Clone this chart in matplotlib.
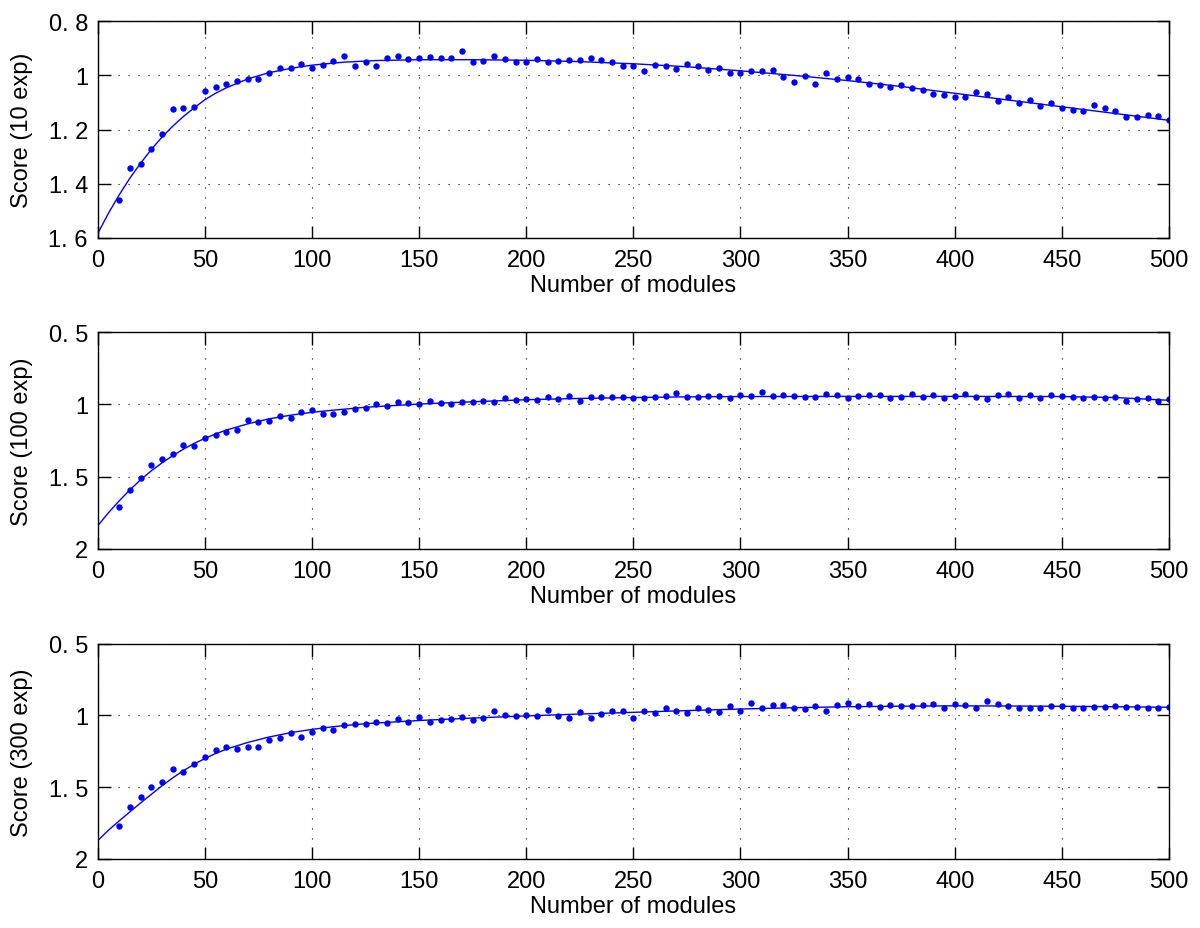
import matplotlib
matplotlib.use("Agg")
import matplotlib.pyplot as plt

plt.rcParams['font.family'] = ['Liberation Sans', 'DejaVu Sans']

# module counts for the measured points (every 5 modules, 10..500)
modules = list(range(10, 505, 5))

# scores, one value per module count
score_10 = [
    1.459, 1.342, 1.327, 1.271, 1.218, 1.124, 1.122, 1.116, 1.058, 1.041,
    1.033, 1.022, 1.012, 1.015, 0.990, 0.972, 0.973, 0.959, 0.973, 0.961,
    0.947, 0.930, 0.964, 0.951, 0.967, 0.935, 0.929, 0.938, 0.937, 0.931,
    0.936, 0.937, 0.908, 0.952, 0.946, 0.929, 0.940, 0.952, 0.952, 0.938,
    0.950, 0.946, 0.943, 0.943, 0.934, 0.942, 0.952, 0.964, 0.964, 0.982,
    0.961, 0.967, 0.977, 0.959, 0.964, 0.980, 0.973, 0.990, 0.990, 0.984,
    0.983, 0.979, 1.007, 1.023, 1.004, 1.031, 0.991, 1.014, 1.007, 1.014,
    1.030, 1.037, 1.042, 1.037, 1.048, 1.055, 1.068, 1.073, 1.079, 1.078,
    1.060, 1.069, 1.096, 1.081, 1.101, 1.091, 1.113, 1.102, 1.122, 1.128,
    1.130, 1.111, 1.119, 1.133, 1.154, 1.154, 1.147, 1.151, 1.166,
]
score_100 = [
    1.707, 1.594, 1.509, 1.422, 1.376, 1.340, 1.282, 1.289, 1.232, 1.211,
    1.193, 1.179, 1.110, 1.119, 1.117, 1.083, 1.094, 1.050, 1.041, 1.069,
    1.069, 1.050, 1.030, 1.023, 0.998, 1.009, 0.982, 0.989, 0.998, 0.977,
    0.989, 1.000, 0.986, 0.986, 0.977, 0.984, 0.959, 0.968, 0.961, 0.968,
    0.947, 0.961, 0.945, 0.975, 0.952, 0.950, 0.950, 0.952, 0.955, 0.959,
    0.952, 0.940, 0.924, 0.947, 0.947, 0.943, 0.945, 0.954, 0.936, 0.945,
    0.915, 0.945, 0.936, 0.945, 0.952, 0.947, 0.931, 0.933, 0.954, 0.945,
    0.936, 0.936, 0.959, 0.948, 0.929, 0.950, 0.933, 0.959, 0.945, 0.929,
    0.947, 0.963, 0.936, 0.929, 0.954, 0.936, 0.954, 0.936, 0.945, 0.950,
    0.959, 0.947, 0.956, 0.952, 0.977, 0.966, 0.959, 0.977, 0.961,
]
score_300 = [
    1.767, 1.640, 1.570, 1.495, 1.461, 1.372, 1.395, 1.337, 1.291, 1.244,
    1.221, 1.237, 1.223, 1.219, 1.174, 1.158, 1.121, 1.151, 1.112, 1.088,
    1.100, 1.067, 1.056, 1.058, 1.042, 1.049, 1.026, 1.042, 1.012, 1.047,
    1.030, 1.026, 1.012, 1.035, 1.016, 0.972, 0.995, 1.002, 1.000, 1.007,
    0.960, 1.005, 1.016, 0.977, 1.021, 0.991, 0.972, 0.967, 1.015, 0.972,
    0.981, 0.951, 0.967, 0.981, 0.951, 0.963, 0.979, 0.937, 0.970, 0.912,
    0.951, 0.926, 0.930, 0.951, 0.953, 0.935, 0.970, 0.930, 0.914, 0.937,
    0.921, 0.942, 0.930, 0.933, 0.935, 0.926, 0.923, 0.949, 0.919, 0.930,
    0.947, 0.902, 0.919, 0.935, 0.947, 0.947, 0.951, 0.935, 0.933, 0.949,
    0.947, 0.940, 0.944, 0.933, 0.942, 0.942, 0.949, 0.949, 0.940,
]

# fitted curves, read at a set of module counts
fit_x_10 = [0, 5, 10, 15, 20, 25, 30, 35, 40, 45, 50, 55, 60, 70, 80, 90, 100,
            115, 130, 150, 175, 200, 225, 250, 275, 300, 325, 350, 375, 400,
            425, 450, 475, 500]
fit_y_10 = [1.585, 1.510, 1.442, 1.380, 1.325, 1.274, 1.228, 1.188, 1.152,
            1.120, 1.090, 1.066, 1.046, 1.013, 0.990, 0.974, 0.962, 0.951,
            0.945, 0.942, 0.942, 0.944, 0.949, 0.957, 0.968, 0.983, 1.000,
            1.019, 1.041, 1.066, 1.091, 1.116, 1.141, 1.166]

fit_x_100 = [0, 5, 10, 15, 20, 25, 30, 35, 40, 45, 50, 55, 60, 70, 80, 90, 100,
             110, 125, 150, 175, 200, 225, 250, 275, 300, 350, 400, 450, 475,
             500]
fit_y_100 = [1.840, 1.750, 1.668, 1.592, 1.522, 1.460, 1.405, 1.355, 1.310,
             1.270, 1.235, 1.205, 1.178, 1.135, 1.100, 1.075, 1.055, 1.040,
             1.020, 0.998, 0.982, 0.968, 0.959, 0.953, 0.948, 0.946, 0.945,
             0.945, 0.946, 0.953, 0.972]

fit_x_300 = [0, 5, 10, 15, 20, 25, 30, 35, 40, 45, 50, 55, 60, 70, 80, 90, 100,
             110, 125, 150, 175, 200, 225, 250, 275, 300, 325, 350, 375, 400,
             425, 450, 475, 500]
fit_y_300 = [1.872, 1.800, 1.735, 1.672, 1.610, 1.550, 1.490, 1.435, 1.385,
             1.340, 1.300, 1.265, 1.235, 1.188, 1.150, 1.120, 1.097, 1.078,
             1.057, 1.035, 1.018, 1.003, 0.990, 0.978, 0.966, 0.955, 0.946,
             0.939, 0.935, 0.933, 0.934, 0.936, 0.939, 0.943]

ylabels = ['Score (10 exp)', 'Score (100 exp)', 'Score (300 exp)']
ylims = [(0.8, 1.6), (0.5, 2.0), (0.5, 2.0)]
yticks = [[0.8, 1.0, 1.2, 1.4, 1.6], [0.5, 1.0, 1.5, 2.0], [0.5, 1.0, 1.5, 2.0]]
yticklabels = [['0. 8', '1', '1. 2', '1. 4', '1. 6'],
               ['0. 5', '1', '1. 5', '2'],
               ['0. 5', '1', '1. 5', '2']]
xticks = list(range(0, 550, 50))

series = [(score_10, fit_x_10, fit_y_10),
          (score_100, fit_x_100, fit_y_100),
          (score_300, fit_x_300, fit_y_300)]

fig = plt.figure(figsize=(12, 9.29), dpi=100)
# axes boxes [left, bottom, width, height] in figure fractions
boxes = [[0.0814, 0.743, 0.8928, 0.233],
         [0.0814, 0.408, 0.8928, 0.2335],
         [0.0814, 0.0743, 0.8928, 0.2317]]

blue = (0, 0, 1)
for i, (pts, fx, fy) in enumerate(series):
    ax = fig.add_axes(boxes[i])
    ax.plot(fx, fy, '-', color=blue, lw=1.0)
    ax.plot(modules, pts, 'o', color=blue, ms=4.6, mec='none')
    ax.set_xlim(0, 500)
    ax.set_ylim(ylims[i][1], ylims[i][0])  # reversed: small score on top
    ax.set_xticks(xticks)
    ax.set_yticks(yticks[i])
    ax.set_yticklabels(yticklabels[i])
    ax.grid(True, linestyle=(0, (1, 8)), color='black', lw=0.8)
    ax.tick_params(direction='in', length=9, width=1.0, top=True, right=True,
                   labelsize=17, pad=7)
    ax.tick_params(axis='x', pad=8)
    for s in ax.spines.values():
        s.set_linewidth(1.0)
    ax.set_xlabel('Number of modules', fontsize=17, labelpad=2)
    ax.set_ylabel(ylabels[i], fontsize=17)
    ax.yaxis.set_label_coords(-0.060, 0.5)

fig.savefig('out.png', dpi=100)
